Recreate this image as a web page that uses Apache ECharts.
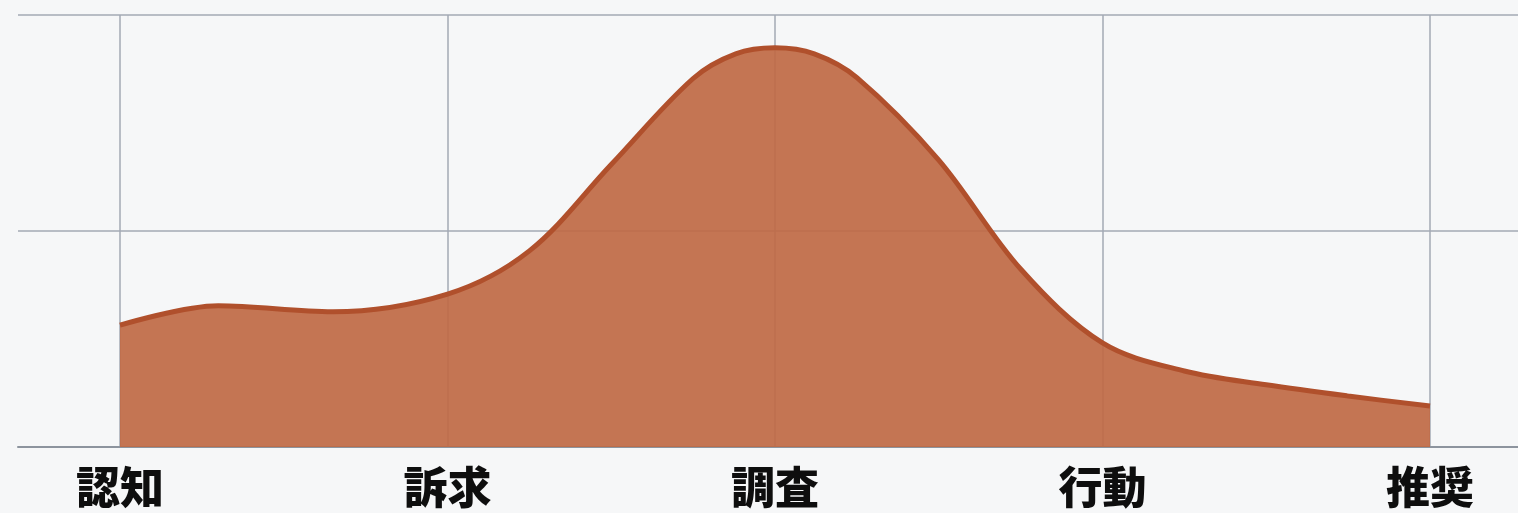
<!DOCTYPE html>
<html>
<head>
<meta charset="utf-8">
<script src="https://cdn.jsdelivr.net/npm/echarts@6/dist/echarts.min.js"></script>
<style>
  html, body { margin: 0; padding: 0; background: #f6f7f8; }
  #chart { width: 1518px; height: 513px; }
</style>
</head>
<body>
<div id="chart"></div>
<script>
// Funnel stages shown along the bottom axis
const stageLabels = ['認知', '訴求', '調査', '行動', '推奨'];

// Curve samples: position along the stage axis (0 = 認知 … 4 = 推奨) and level
const stagePos = [
  0.00, 0.30, 0.65, 1.00, 1.25, 1.50, 1.75, 1.88, 2.00, 2.12,
  2.25, 2.50, 2.75, 3.00, 3.25, 3.50, 3.75, 4.00
];
const interestLevel = [
  28.2, 32.7, 31.3, 35.4, 45.4, 65.4, 85.3, 91.0, 92.4, 91.0,
  85.5, 66.4, 41.2, 24.1, 17.6, 14.4, 11.8, 9.5
];

// Horizontal guide levels
const levelMin = 0;
const levelMax = 100;
const levelStep = 50;

const curve = stagePos.map((p, i) => [p, interestLevel[i]]);

const chart = echarts.init(document.getElementById('chart'));
chart.setOption({
  backgroundColor: '#f6f7f8',
  animation: false,
  grid: [
    // wide grid: horizontal guides and baseline running across the page
    { left: 18, right: 0, top: 15, bottom: 66 },
    // plotting grid between the first and last stage
    { left: 120, right: 88, top: 15, bottom: 66 }
  ],
  xAxis: [
    {
      gridIndex: 0, type: 'value', min: 0, max: 1,
      axisLine: { show: true, lineStyle: { color: '#8d949e', width: 2 } },
      axisTick: { show: false }, axisLabel: { show: false }, splitLine: { show: false }
    },
    {
      gridIndex: 1, type: 'value', min: 0, max: stageLabels.length - 1, interval: 1,
      axisLine: { show: false }, axisTick: { show: false },
      splitLine: { show: true, lineStyle: { color: '#a3aab5', width: 1.5 } },
      axisLabel: {
        margin: 18,
        fontSize: 44,
        fontWeight: 900,
        color: '#0e0e0e',
        fontFamily: '"Noto Sans CJK JP", "Noto Sans CJK SC", sans-serif',
        formatter: v => stageLabels[Math.round(v)] || ''
      }
    }
  ],
  yAxis: [
    {
      gridIndex: 0, type: 'value', min: levelMin, max: levelMax, interval: levelStep,
      axisLine: { show: false }, axisTick: { show: false }, axisLabel: { show: false },
      splitLine: { show: true, lineStyle: { color: '#a3aab5', width: 1.5 } }
    },
    {
      gridIndex: 1, type: 'value', min: levelMin, max: levelMax, interval: levelStep,
      axisLine: { show: false }, axisTick: { show: false }, axisLabel: { show: false },
      splitLine: { show: false }
    }
  ],
  series: [{
    type: 'line',
    xAxisIndex: 1,
    yAxisIndex: 1,
    data: curve,
    smooth: 0.34,
    symbol: 'none',
    lineStyle: { color: '#b0502c', width: 5 },
    areaStyle: { color: '#bf6944', opacity: 0.92 }
  }]
});
</script>
</body>
</html>
